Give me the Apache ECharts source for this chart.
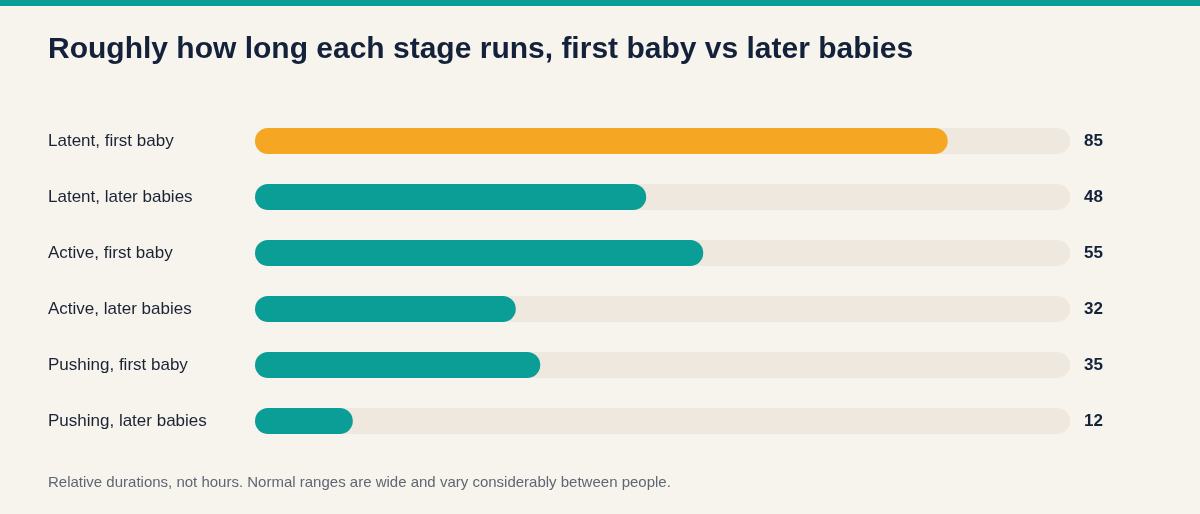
<!DOCTYPE html>
<html>
<head>
<meta charset="utf-8">
<script src="https://cdn.jsdelivr.net/npm/echarts@6/dist/echarts.min.js"></script>
<style>
  html, body { margin: 0; padding: 0; background: #f7f4ee; }
  #chart { width: 1200px; height: 514px; }
</style>
</head>
<body>
<div id="chart"></div>
<script>
// stages, top to bottom
var stages = [
  "Latent, first baby",
  "Latent, later babies",
  "Active, first baby",
  "Active, later babies",
  "Pushing, first baby",
  "Pushing, later babies"
];
// relative durations (not hours)
var durations = [85, 48, 55, 32, 35, 12];
var scaleMax = 100;

var teal = "#0a9e96";
var orange = "#f5a623";

var trackData = stages.map(function () { return scaleMax; });
var barData = durations.map(function (v, i) {
  return { value: v, itemStyle: { color: i === 0 ? orange : teal } };
});

var chart = echarts.init(document.getElementById("chart"));
chart.setOption({
  backgroundColor: "#f7f4ee",
  animation: false,
  title: [
    {
      text: "Roughly how long each stage runs, first baby vs later babies",
      left: 48,
      top: 35,
      padding: 0,
      textStyle: {
        fontFamily: "Liberation Sans",
        fontSize: 30,
        fontWeight: "bold",
        color: "#14213a"
      }
    },
    {
      text: "Relative durations, not hours. Normal ranges are wide and vary considerably between people.",
      left: 48,
      top: 475,
      padding: 0,
      textStyle: {
        fontFamily: "Liberation Sans",
        fontSize: 15,
        fontWeight: "normal",
        color: "#5f6673"
      }
    }
  ],
  graphic: [
    {
      type: "rect",
      left: 0,
      top: 0,
      shape: { width: 1200, height: 6 },
      style: { fill: teal }
    }
  ],
  grid: { left: 255, right: 130, top: 113, bottom: 65 },
  xAxis: {
    type: "value",
    min: 0,
    max: scaleMax,
    show: false
  },
  yAxis: {
    type: "category",
    data: stages,
    inverse: true,
    axisLine: { show: false },
    axisTick: { show: false },
    splitLine: { show: false },
    axisLabel: {
      align: "left",
      margin: 207,
      fontFamily: "Liberation Sans",
      fontSize: 17,
      color: "#1b2333"
    }
  },
  series: [
    {
      name: "track",
      type: "bar",
      data: trackData,
      barWidth: 26,
      barGap: "-100%",
      silent: true,
      itemStyle: { color: "#efe8df", borderRadius: 13 },
      label: {
        show: true,
        position: "right",
        distance: 14,
        formatter: function (p) { return durations[p.dataIndex]; },
        fontFamily: "Liberation Sans",
        fontSize: 17,
        fontWeight: "bold",
        color: "#14213a"
      },
      z: 1
    },
    {
      name: "duration",
      type: "bar",
      data: barData,
      barWidth: 26,
      itemStyle: { borderRadius: 13 },
      z: 2
    }
  ]
});
</script>
</body>
</html>
